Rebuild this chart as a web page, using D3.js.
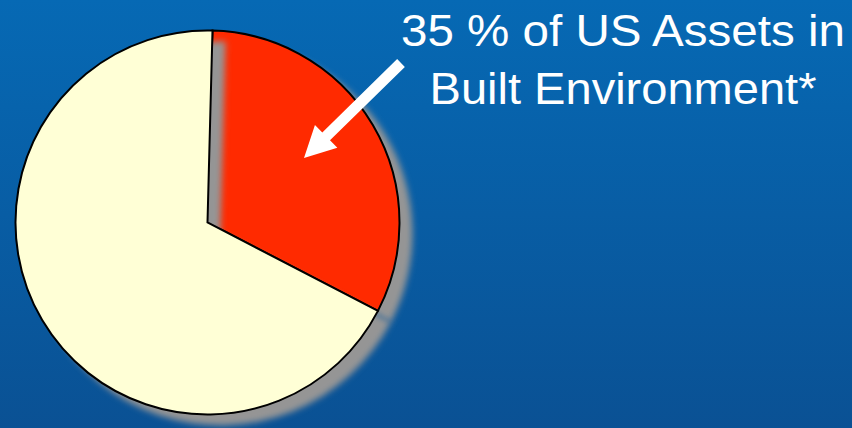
<!DOCTYPE html>
<html>
<head>
<meta charset="utf-8">
<script src="https://cdn.jsdelivr.net/npm/d3@7"></script>
<style>
html,body{margin:0;padding:0;overflow:hidden;}
svg{display:block;}
</style>
</head>
<body>
<script>
// Data
const categories = ["Built Environment", "Other US Assets"];
const shares = [32.2, 67.8];
const sliceColors = ["#ff2a00", "#ffffd6"];
const titleLines = ["35 % of US Assets in", "Built Environment*"];

const W = 852, H = 428;
const svg = d3.select("body").append("svg").attr("width", W).attr("height", H);
const defs = svg.append("defs");

const bg = defs.append("linearGradient").attr("id", "bg").attr("x1", 0).attr("y1", 0).attr("x2", 0).attr("y2", 1);
bg.append("stop").attr("offset", "0%").attr("stop-color", "#0669b4");
bg.append("stop").attr("offset", "100%").attr("stop-color", "#0a5194");
svg.append("rect").attr("width", W).attr("height", H).attr("fill", "url(#bg)");

const blur = defs.append("filter").attr("id", "shadow").attr("x", "-20%").attr("y", "-20%").attr("width", "140%").attr("height", "140%");
blur.append("feGaussianBlur").attr("stdDeviation", 3.2);

const cx = 207.5, cy = 222.5, r = 192;
const start = 0.026;
const pie = d3.pie().sort(null).startAngle(start).endAngle(start + 2 * Math.PI);
const arcs = pie(shares);
const arc = d3.arc().innerRadius(0).outerRadius(r);

const g = svg.append("g").attr("transform", `translate(${cx},${cy})`);
const sx = 13, sy = 11;

arcs.forEach((a, i) => {
  g.append("path").attr("d", arc(a))
    .attr("transform", `translate(${sx},${sy})`)
    .attr("fill", "#959595")
    .attr("filter", "url(#shadow)");
  g.append("path").attr("d", arc(a))
    .attr("fill", sliceColors[i])
    .attr("stroke", "#000")
    .attr("stroke-width", 2)
    .attr("stroke-linejoin", "miter")
    .append("title").text(categories[i] + ": " + shares[i] + "%");
});

// Title text
const tx = 623;
const tlen = [444, 387];
svg.selectAll("text.t").data(titleLines).enter().append("text")
  .attr("class", "t")
  .attr("x", tx)
  .attr("y", (d, i) => 46 + i * 58)
  .attr("text-anchor", "middle")
  .attr("font-family", "Liberation Sans, Arial, sans-serif")
  .attr("font-size", 44)
  .attr("fill", "#fff")
  .attr("textLength", (d, i) => tlen[i])
  .attr("lengthAdjust", "spacingAndGlyphs")
  .text(d => d);

// Arrow
const tail = [401, 63], tip = [304, 158];
const dx = tip[0] - tail[0], dy = tip[1] - tail[1];
const len = Math.hypot(dx, dy);
const ux = dx / len, uy = dy / len, px = -uy, py = ux;
const sw = 5.5, hw = 16, hl = 31;
const bx = tip[0] - ux * hl, by = tip[1] - uy * hl;
const pts = [
  [tail[0] + px * sw, tail[1] + py * sw],
  [bx + px * sw, by + py * sw],
  [bx + px * hw, by + py * hw],
  tip,
  [bx - px * hw, by - py * hw],
  [bx - px * sw, by - py * sw],
  [tail[0] - px * sw, tail[1] - py * sw]
];
svg.append("path").attr("d", d3.line()(pts) + "Z").attr("fill", "#fff");
</script>
</body>
</html>
